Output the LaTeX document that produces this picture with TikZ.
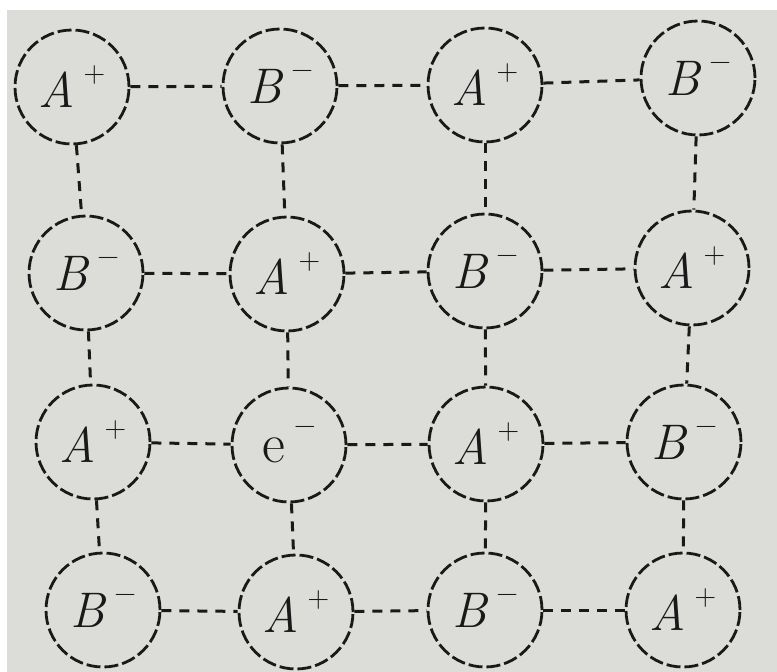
\documentclass[tikz,border=0pt]{standalone}
\definecolor{paper}{RGB}{220,220,217}
\definecolor{ink}{RGB}{25,25,25}
\newcommand{\sups}[1]{\raisebox{0.5em}{\fontsize{30}{32}\selectfont #1}}
\newcommand{\ionA}{\textit{A}\,\sups{+}}
\newcommand{\ionB}{\textit{B}\,\sups{−}}
\tikzset{
  ion/.style={circle, draw=ink, line width=2.8pt, dash pattern=on 14pt off 4pt,
    minimum size=114pt, inner sep=0pt, text=ink,
    font=\fontsize{50}{54}\selectfont},
  bond/.style={draw=ink, line width=3pt, dash pattern=on 10pt off 8pt}
}
\begin{document}
\begin{tikzpicture}[x=1pt,y=-1pt]
\fill[white] (0,0) rectangle (777,672);
\fill[paper] (7,10) rectangle (777,672);
\useasboundingbox (0,0) rectangle (777,672);
% row 1
\node[ion] (a11) at (72,87) {\ionA};
\node[ion] (a12) at (280,86) {\ionB};
\node[ion] (a13) at (485,85) {\ionA};
\node[ion] (a14) at (698,78) {\ionB};
% row 2
\node[ion] (a21) at (86,273) {\ionB};
\node[ion] (a22) at (287,274) {\ionA};
\node[ion] (a23) at (485,271) {\ionB};
\node[ion] (a24) at (692,268) {\ionA};
% row 3
\node[ion] (a31) at (93,442) {\ionA};
\node[ion] (a32) at (289,445) {\fontsize{56}{60}\selectfont e\,\sups{−}};
\node[ion] (a33) at (486,444) {\ionA};
\node[ion] (a34) at (684,442) {\ionB};
% row 4
\node[ion] (a41) at (103,610) {\ionB};
\node[ion] (a42) at (296,612) {\ionA};
\node[ion] (a43) at (485,610) {\ionB};
\node[ion] (a44) at (683,610) {\ionA};
% horizontal bonds
\foreach \r in {1,2,3,4}{
  \draw[bond] (a\r1) -- (a\r2);
  \draw[bond] (a\r2) -- (a\r3);
  \draw[bond] (a\r3) -- (a\r4);
}
% vertical bonds
\foreach \c in {1,2,3,4}{
  \draw[bond] (a1\c) -- (a2\c);
  \draw[bond] (a2\c) -- (a3\c);
  \draw[bond] (a3\c) -- (a4\c);
}
\end{tikzpicture}
\end{document}
